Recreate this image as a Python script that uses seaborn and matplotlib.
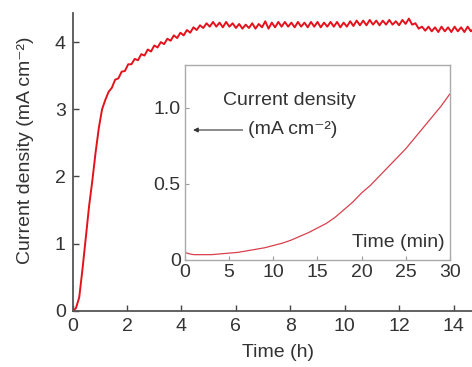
import numpy as np
import matplotlib
matplotlib.use("Agg")
import matplotlib.pyplot as plt
import seaborn as sns

# main trace, sampled every 0.12 h
time_h = np.round(np.arange(124) * 0.12, 2)
current = [0.00, 0.04, 0.20, 0.62, 1.08, 1.55, 1.93, 2.35, 2.72, 3.00,
           3.14, 3.26, 3.32, 3.44, 3.46, 3.56, 3.57, 3.67, 3.67, 3.75,
           3.73, 3.82, 3.80, 3.89, 3.86, 3.95, 3.92, 4.00, 3.97, 4.05,
           4.02, 4.10, 4.06, 4.14, 4.10, 4.18, 4.14, 4.22, 4.18, 4.25,
           4.21, 4.28, 4.23, 4.30, 4.23, 4.29, 4.22, 4.30, 4.23, 4.28,
           4.21, 4.27, 4.20, 4.26, 4.21, 4.28, 4.20, 4.27, 4.22, 4.31,
           4.20, 4.29, 4.22, 4.30, 4.23, 4.30, 4.23, 4.29, 4.22, 4.30,
           4.23, 4.29, 4.22, 4.30, 4.23, 4.30, 4.22, 4.29, 4.23, 4.30,
           4.23, 4.30, 4.22, 4.29, 4.23, 4.31, 4.24, 4.32, 4.25, 4.32,
           4.25, 4.33, 4.26, 4.32, 4.25, 4.32, 4.26, 4.33, 4.26, 4.31,
           4.25, 4.33, 4.27, 4.35, 4.26, 4.28, 4.20, 4.23, 4.17, 4.23,
           4.16, 4.22, 4.15, 4.23, 4.16, 4.22, 4.15, 4.23, 4.16, 4.22,
           4.15, 4.23, 4.16, 4.21]

# first 30 min (inset)
time_min = [0, 0.5, 1, 2, 3, 4, 5, 6, 7, 8, 9, 10, 11, 12, 13, 14, 15,
            16, 17, 18, 19, 20, 21, 22, 23, 24, 25, 26, 27, 28, 29, 30]
current_min = [0.05, 0.04, 0.035, 0.035, 0.035, 0.04, 0.045, 0.05, 0.06,
               0.07, 0.08, 0.095, 0.11, 0.13, 0.155, 0.18, 0.21, 0.24,
               0.28, 0.33, 0.38, 0.44, 0.49, 0.55, 0.61, 0.67, 0.73, 0.80,
               0.87, 0.94, 1.01, 1.09]

main_xticks = [0, 2, 4, 6, 8, 10, 12, 14]
main_yticks = [0, 1, 2, 3, 4]
inset_xticks = [0, 5, 10, 15, 20, 25, 30]
inset_yticks = [0, 0.5, 1.0]
inset_ylabels = ["0", "0.5", "1.0"]

sns.set_style("ticks")
plt.rcParams["font.family"] = ["Liberation Sans", "DejaVu Sans"]
plt.rcParams["font.size"] = 14
txt = "#333333"
unit = "(mA cm\u207b\u00b2)"

fig = plt.figure(figsize=(4.72, 3.67), dpi=100)
ax = fig.add_axes([0.154, 0.153, 0.846, 0.811])
sns.lineplot(x=time_h, y=current, ax=ax, color="#e3121c", lw=1.4)
ax.set_xlim(0, 14.68)
ax.set_ylim(0, 4.43)
ax.set_xticks(main_xticks)
ax.set_yticks(main_yticks)
ax.tick_params(direction="in", length=4, width=1, color="#444444",
               labelcolor=txt, labelsize=14, pad=5)
sns.despine(ax=ax)
for s in ["left", "bottom"]:
    ax.spines[s].set_color("#555555")
    ax.spines[s].set_linewidth(1.3)
ax.set_xlabel("Time (h)", color=txt, fontsize=14)
ax.set_ylabel("Current density " + unit, color=txt, fontsize=14)
ax.xaxis.set_label_coords(0.513, -0.11)
ax.yaxis.set_label_coords(-0.097, 0.54)

ins = fig.add_axes([0.392, 0.2916, 0.561, 0.531])
sns.lineplot(x=time_min, y=current_min, ax=ins, color="#d8404c", lw=0.9)
ins.set_xlim(0, 30)
ins.set_ylim(0, 1.28)
ins.set_xticks(inset_xticks)
ins.set_yticks(inset_yticks)
ins.set_yticklabels(inset_ylabels)
ins.tick_params(direction="in", length=3, width=0.8, color="#999999",
                labelcolor=txt, labelsize=14, pad=3)
for s in ins.spines.values():
    s.set_color("#aaaaaa")
    s.set_linewidth(1)
ins.set_xlabel("")
ins.set_ylabel("")

ins.text(0.143, 0.82, "Current density", transform=ins.transAxes,
         ha="left", va="center", color=txt, fontsize=14)
ins.text(0.238, 0.667, unit, transform=ins.transAxes,
         ha="left", va="center", color=txt, fontsize=14)
ins.annotate("", xy=(0.02, 0.667), xytext=(0.228, 0.667),
             xycoords="axes fraction",
             arrowprops=dict(arrowstyle="-|>", color="#333333", lw=0.8,
                             mutation_scale=7))
ins.text(0.98, 0.092, "Time (min)", transform=ins.transAxes,
         ha="right", va="center", color=txt, fontsize=14)

fig.savefig("out.png", dpi=100)
